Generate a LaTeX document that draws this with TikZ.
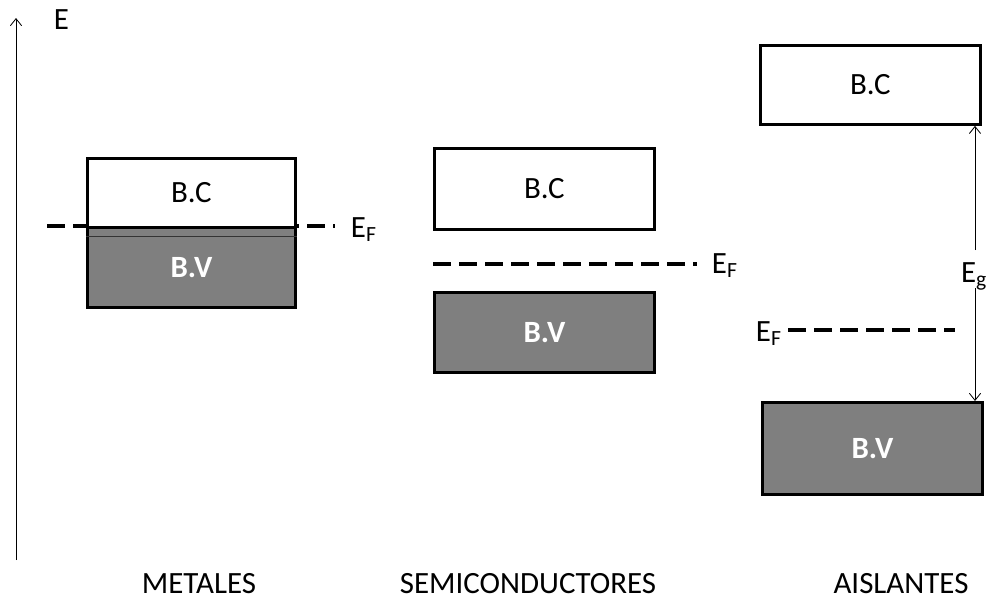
\documentclass[tikz,border=0pt]{standalone}
\usepackage{fontspec}
\setmainfont{Carlito}
\usetikzlibrary{arrows.meta}
\definecolor{grisbanda}{HTML}{7F7F7F}

\begin{document}
\begin{tikzpicture}[x=0.025cm,y=-0.025cm,
        >={Straight Barb[length=5pt,width=8pt]},
        letra/.style={font=\fontsize{22}{26}\selectfont},
        banda/.style={letra,draw,line width=2pt,inner sep=0pt,anchor=north west,fill=white},
        llena/.style={banda,fill=grisbanda,text=white,font=\fontsize{22}{26}\selectfont\bfseries},
        fermi/.style={line width=2.3pt,dash pattern=on 12.8pt off 5.7pt}]
    \useasboundingbox (0,0) rectangle (988,600);

    % eje de energia
    \draw[->,line width=0.6pt] (16,560) -- (16,18);
    \node[letra,anchor=base west] (E) at (49,29) {E};

    % metales
    \draw[fermi] (47,226) -- (335,226);
    \node[llena,minimum width=5.2cm,minimum height=2cm] (bv1) at (86,226) {B.V};
    \draw[line width=0.6pt,gray!40!black] (bv1.west |- 0,236) -- (bv1.east |- 0,236);
    \node[banda,minimum width=5.2cm,minimum height=1.725cm] (bc1) at (86,157) {B.C};
    \node[letra,anchor=base west] (ef1) at (346,237) {E\textsubscript{F}};
    \node[letra,anchor=base] (met) at (199,593) {METALES};

    % semiconductores
    \node[banda,minimum width=5.5cm,minimum height=2.025cm] (bc2) at (433,147) {B.C};
    \draw[fermi] (433,264) -- (697,264);
    \node[letra,anchor=base west] (ef2) at (707,273) {E\textsubscript{F}};
    \node[llena,minimum width=5.5cm,minimum height=2cm] (bv2) at (433,291) {B.V};
    \node[letra,anchor=base] (sem) at (528,593) {SEMICONDUCTORES};

    % aislantes
    \node[banda,minimum width=5.5cm,minimum height=1.975cm] (bc3) at (759,44) {B.C};
    \node[llena,minimum width=5.5cm,minimum height=2.3cm] (bv3) at (761,401) {B.V};
    \draw[fermi] (788,330) -- (955,330);
    \node[letra,anchor=base west] (ef3) at (751,341) {E\textsubscript{F}};
    \node[letra,anchor=base east,inner sep=0.5pt] (eg) at (988,282) {E\textsubscript{g}};
    \coordinate (egarr) at (975,250);
    \coordinate (egab) at (975,288);
    \draw[->,line width=0.6pt] (egarr) -- (egarr |- bc3.south);
    \draw[->,line width=0.6pt] (egab) -- (egab |- bv3.north);
    \node[letra,anchor=base] (ais) at (901,593) {AISLANTES};
\end{tikzpicture}
\end{document}
